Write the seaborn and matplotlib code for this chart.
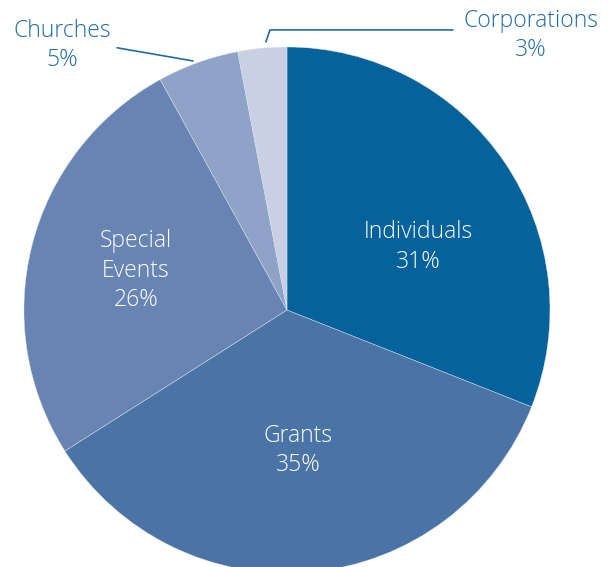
import matplotlib
matplotlib.use("Agg")
import matplotlib.pyplot as plt
import seaborn as sns

sources = ["Individuals", "Grants", "Special\nEvents", "Churches", "Corporations"]
shares = [31, 35, 26, 5, 3]
colors = ["#05629B", "#4A74A6", "#6884B3", "#8FA2C7", "#C9D0E4"]
text_blue = "#1F6CA8"

sns.set_theme(style="white")
plt.rcParams["font.family"] = ["Open Sans", "DejaVu Sans"]

fig = plt.figure(figsize=(6.08, 5.67), dpi=100)
ax = fig.add_axes([0, 0, 1, 1])

wedges, _ = ax.pie(shares, colors=colors, startangle=90, counterclock=False,
                   radius=1.0, wedgeprops=dict(linewidth=0.3, edgecolor="#DDE3EE"))

# inner labels (white)
inner_pos = [(0.500, 0.240), (0.042, -0.535), (-0.574, 0.150)]
for name, val, (x, y) in zip(sources[:3], shares[:3], inner_pos):
    ax.text(x, y, f"{name}\n{val}%", ha="center", va="center", color="white",
            fontsize=16.5, linespacing=1.3, fontweight="light")

# outer labels with leader lines
ax.text(-0.856, 1.005, f"{sources[3]}\n{shares[3]}%", ha="center", va="center",
        color=text_blue, fontsize=16.5, linespacing=1.3, fontweight="light")
ax.plot([-0.646, -0.357], [0.997, 0.947], color=text_blue, lw=1.2)

ax.text(0.928, 1.043, f"{sources[4]}\n{shares[4]}%", ha="center", va="center",
        color=text_blue, fontsize=16.5, linespacing=1.3, fontweight="light")
ax.plot([-0.080, -0.065, 0.631], [1.019, 1.065, 1.065], color=text_blue, lw=1.2)

ax.set_xlim(-1.091, 1.2205)
ax.set_ylim(-0.977, 1.1787)
ax.set_aspect("equal")
ax.axis("off")

fig.savefig("out.png", dpi=100, facecolor="white")
